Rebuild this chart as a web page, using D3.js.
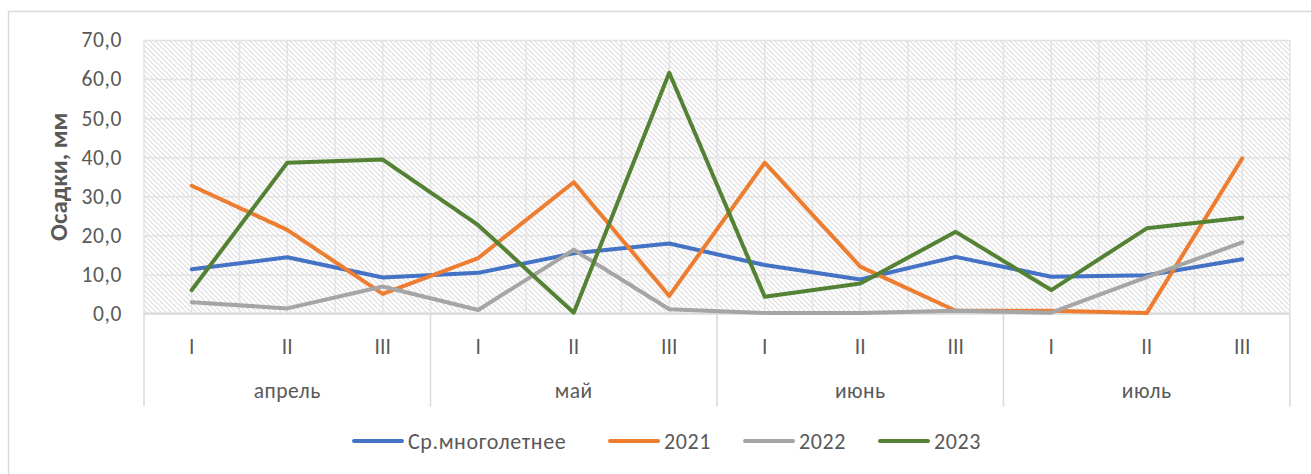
<!DOCTYPE html>
<html>
<head>
<meta charset="utf-8">
<script src="https://cdn.jsdelivr.net/npm/d3@7"></script>
<style>
  body { margin: 0; background: #fff; }
  svg text { font-family: Calibri, Carlito, Lato, sans-serif; fill: #595959; }
</style>
</head>
<body>
<div id="chart"></div>
<script>
var svgWidth = 1311;
var svgHeight = 474;

// data
var months = ["апрель", "май", "июнь", "июль"];
var decades = ["I", "II", "III"];
var seriesNames = ["Ср.многолетнее", "2021", "2022", "2023"];
var seriesColors = ["#4472C4", "#ED7D31", "#A5A5A5", "#548235"];
var avgValues = [11.3, 14.4, 9.2, 10.4, 15.4, 17.9, 12.4, 8.7, 14.5, 9.4, 9.8, 13.9];
var y2021 = [32.7, 21.4, 5.0, 14.2, 33.6, 4.5, 38.6, 12.0, 0.7, 0.7, 0.1, 39.7];
var y2022 = [2.9, 1.3, 6.9, 0.9, 16.3, 1.1, 0.1, 0.1, 0.7, 0.2, 9.3, 18.2];
var y2023 = [6.0, 38.6, 39.4, 22.6, 0.2, 61.6, 4.3, 7.7, 20.9, 6.0, 21.8, 24.5];
var yTicks = [0, 10, 20, 30, 40, 50, 60, 70];

var allSeries = [avgValues, y2021, y2022, y2023];

var margin = { top: 40, right: 21, bottom: 160, left: 144 };
var width = svgWidth - margin.left - margin.right;
var height = 313.5 - margin.top;

var categories = [];
months.forEach(function(m) {
  decades.forEach(function(d) { categories.push(m + "|" + d); });
});

var svg = d3.select("#chart")
  .append("svg")
  .attr("width", svgWidth)
  .attr("height", svgHeight);

// hatch pattern of the plot area
var defs = svg.append("defs");
var pat = defs.append("pattern")
  .attr("id", "hatch")
  .attr("patternUnits", "userSpaceOnUse")
  .attr("width", 5)
  .attr("height", 5);
pat.append("rect").attr("width", 5).attr("height", 5).attr("fill", "#fff");
pat.append("path")
  .attr("d", "M-1,-1 L6,6 M-1,4 L1,6 M4,-1 L6,1")
  .attr("stroke", "#dedede")
  .attr("stroke-width", 1.1);

// outer chart border
svg.append("rect")
  .attr("x", 8.5).attr("y", 11.5)
  .attr("width", 1340).attr("height", 500)
  .attr("fill", "none")
  .attr("stroke", "#d9d9d9")
  .attr("stroke-width", 1.5);

var chartGroup = svg.append("g")
  .attr("transform", `translate(${margin.left}, ${margin.top})`);

var xScale = d3.scaleBand().domain(categories).range([0, width]);
var yScale = d3.scaleLinear().domain([0, 70]).range([height, 0]);

chartGroup.append("rect")
  .attr("width", width)
  .attr("height", height)
  .attr("fill", "url(#hatch)");

// horizontal gridlines
chartGroup.append("g")
  .call(d3.axisLeft(yScale).tickValues(yTicks).tickSize(-width).tickFormat(""))
  .call(g => g.select(".domain").remove())
  .call(g => g.selectAll("line").attr("stroke", "#e3e3e3").attr("stroke-width", 1.5));

// vertical gridlines at band edges and centres
var half = xScale.bandwidth() / 2;
var vLines = d3.range(categories.length * 2 + 1).map(i => i * half);
chartGroup.append("g").selectAll("line")
  .data(vLines)
  .enter()
  .append("line")
  .attr("x1", d => d).attr("x2", d => d)
  .attr("y1", 0).attr("y2", height)
  .attr("stroke", "#e3e3e3")
  .attr("stroke-width", 1.5);

// y axis labels
chartGroup.append("g")
  .call(d3.axisLeft(yScale).tickValues(yTicks).tickSize(0).tickPadding(22)
    .tickFormat(d => d3.format(".1f")(d).replace(".", ",")))
  .call(g => g.select(".domain").remove())
  .call(g => g.selectAll("text").style("font-size", "21.5px").style("letter-spacing", "0.6px"));

// x axis line
chartGroup.append("line")
  .attr("x1", 0).attr("x2", width)
  .attr("y1", height).attr("y2", height)
  .attr("stroke", "#d9d9d9")
  .attr("stroke-width", 2);

// decade labels
chartGroup.append("g").selectAll("text")
  .data(categories)
  .enter()
  .append("text")
  .attr("x", d => xScale(d) + half)
  .attr("y", height + 40)
  .attr("text-anchor", "middle")
  .style("font-size", "21.5px")
  .text(d => d.split("|")[1]);

// month separators and labels
var groupWidth = xScale.bandwidth() * decades.length;
chartGroup.append("g").selectAll("line")
  .data(d3.range(months.length + 1))
  .enter()
  .append("line")
  .attr("x1", i => i * groupWidth).attr("x2", i => i * groupWidth)
  .attr("y1", height).attr("y2", height + 93)
  .attr("stroke", "#d9d9d9")
  .attr("stroke-width", 1.5);

chartGroup.append("g").selectAll("text")
  .data(months)
  .enter()
  .append("text")
  .attr("x", (d, i) => xScale(d + "|II") + half)
  .attr("y", height + 84)
  .attr("text-anchor", "middle")
  .style("font-size", "21.5px")
  .style("letter-spacing", "0.5px")
  .text(d => d);

// series lines
var line = d3.line()
  .x((d, i) => xScale(categories[i]) + half)
  .y(d => yScale(d));

chartGroup.append("g").selectAll("path")
  .data(allSeries)
  .enter()
  .append("path")
  .attr("d", d => line(d))
  .attr("fill", "none")
  .attr("stroke", (d, i) => seriesColors[i])
  .attr("stroke-width", 4)
  .attr("stroke-linejoin", "round")
  .attr("stroke-linecap", "round");

// y axis title
chartGroup.append("text")
  .attr("transform", "rotate(-90)")
  .attr("x", -height / 2)
  .attr("y", -margin.left + 67)
  .attr("text-anchor", "middle")
  .style("font-size", "25px")
  .style("font-weight", "bold")
  .text("Осадки, мм");

// legend
var legendX = [354, 610, 745, 880];
var legend = svg.append("g");
seriesNames.forEach(function(name, i) {
  var item = legend.append("g").attr("transform", `translate(${legendX[i]}, 441)`);
  item.append("line")
    .attr("x1", 0).attr("x2", 48)
    .attr("stroke", seriesColors[i])
    .attr("stroke-width", 4)
    .attr("stroke-linecap", "round");
  item.append("text")
    .attr("x", 54)
    .attr("dy", "0.35em")
    .style("font-size", "22px")
    .style("letter-spacing", "0.6px")
    .text(name);
});
</script>
</body>
</html>
